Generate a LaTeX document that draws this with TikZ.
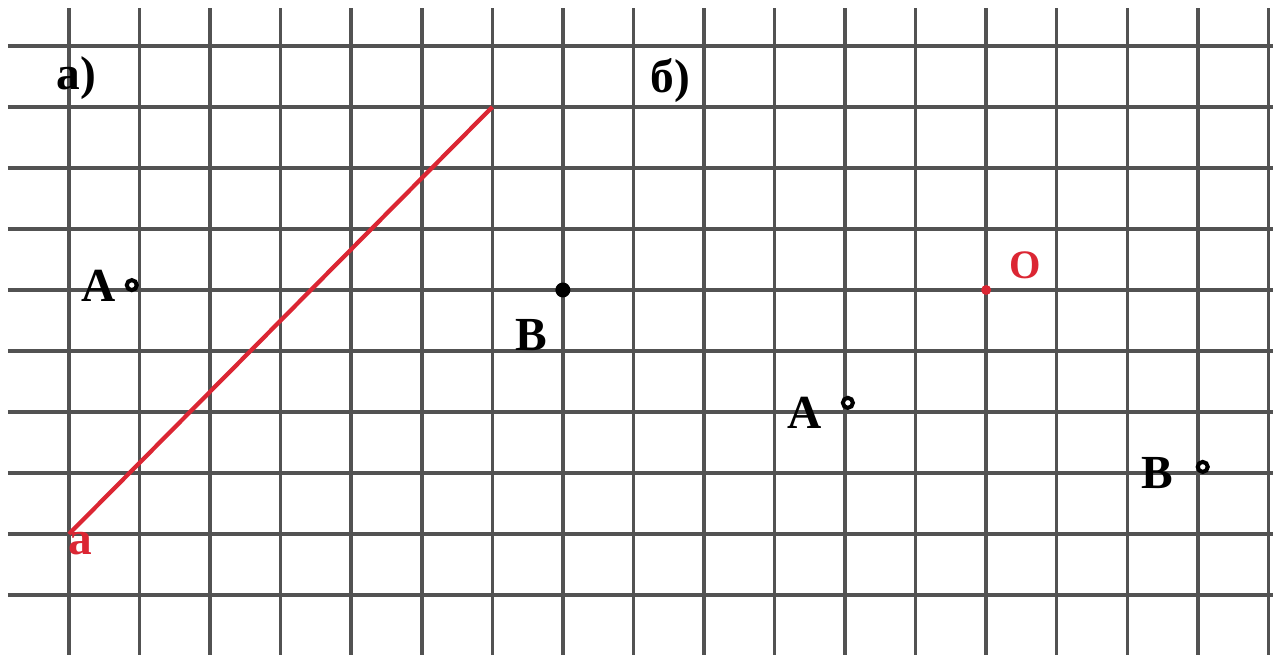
\documentclass[tikz,border=0pt]{standalone}
\usepackage{fontspec}
\setmainfont{Liberation Serif}
\usepackage{tikz}
\usetikzlibrary{positioning, calc}
\definecolor{gridgrey}{rgb}{0.32,0.32,0.32}
\definecolor{segred}{rgb}{0.86,0.15,0.20}

\begin{document}
\begin{tikzpicture}[
  x=1.411cm, y=1.22cm,
  gridline/.style={draw=gridgrey, line width=2pt},
  seg/.style={draw=segred, line width=2.4pt},
  opendot/.style={circle, draw=black, line width=2.3pt, fill=white,
                  inner sep=0pt, minimum size=0.2cm},
  fulldot/.style={circle, fill=black, inner sep=0pt, minimum size=0.3cm},
  reddot/.style={circle, fill=segred, inner sep=0pt, minimum size=0.2cm},
  lbl/.style={font=\fontsize{27}{30}\selectfont\bfseries, inner sep=0pt},
  rlbl/.style={lbl, text=segred}
]
  \useasboundingbox (-0.978,-0.984) rectangle (17.066,9.754);
  % grid
  \foreach \i in {0,...,17}
    \draw[gridline] (\i,9.62) -- (\i,-0.984);
  \foreach \j in {0,...,9}
    \draw[gridline] (-0.865,\j) -- (17.066,\j);
  % part a)
  \node[lbl] (capA) at (0.1,8.48) {а)};
  \coordinate (a0) at (0,1);
  \coordinate (a1) at (6,8);
  \draw[seg] (a0) -- (a1);
  \node[rlbl] (la) at (0.16,0.84) {a};
  \node[opendot] (pA) at (0.89,5.08) {};
  \node[lbl] (lA) at (0.42,5.06) {A};
  \node[fulldot] (pB) at (7,5) {};
  \node[lbl] (lB) at (6.56,4.26) {B};
  % part b)
  \node[lbl] (capB) at (8.52,8.44) {б)};
  \node[reddot] (pO) at (13,5) {};
  \node[rlbl, font=\fontsize{23}{26}\selectfont\bfseries] (lO) at (13.55,5.41) {O};
  \node[opendot] (qA) at (11.04,3.15) {};
  \node[lbl] (mA) at (10.42,2.98) {A};
  \node[opendot] (qB) at (16.07,2.10) {};
  \node[lbl] (mB) at (15.42,2.0) {B};
\end{tikzpicture}
\end{document}
